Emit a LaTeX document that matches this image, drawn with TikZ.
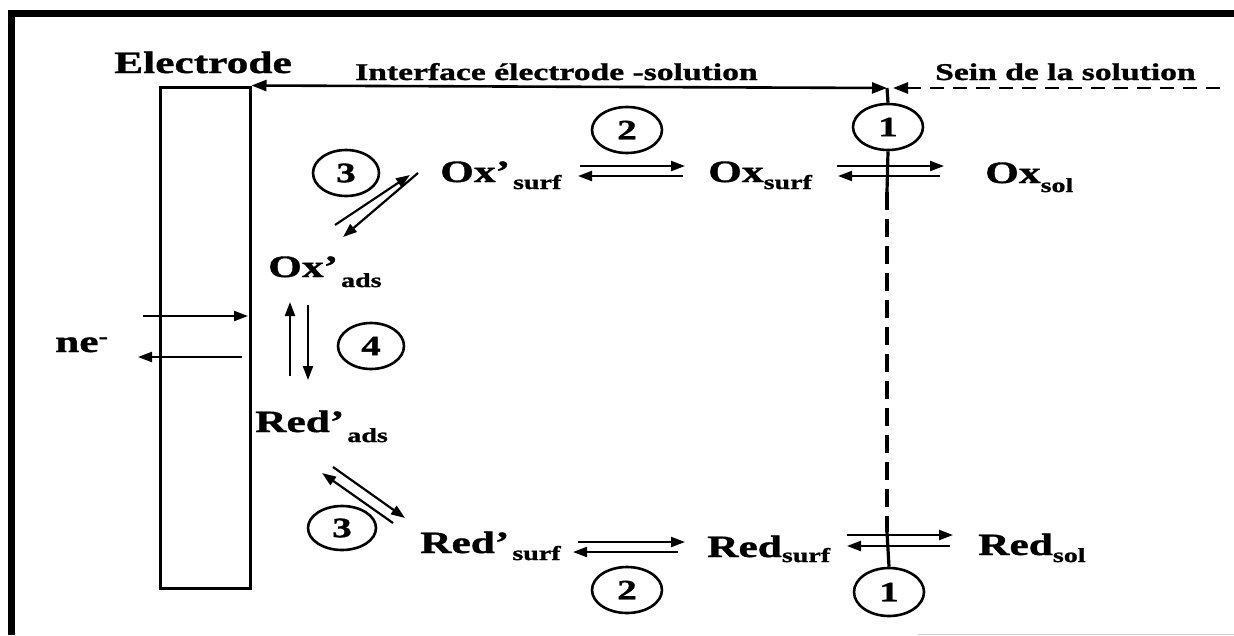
\documentclass[tikz,border=0pt]{standalone}
\usepackage{fontspec}
\setmainfont{Liberation Serif}[FakeStretch=1.4, BoldFeatures={FakeBold=1.2}]
\usetikzlibrary{arrows.meta,shapes.geometric}
\newcommand\mysub[2][7]{\raisebox{-#1pt}{\fontsize{20}{20}\selectfont #2}}
\begin{document}
\begin{tikzpicture}[x=1pt,y=-1pt,
  species/.style={font=\bfseries\fontsize{31}{31}\selectfont, inner sep=0pt, anchor=base west},
  heading/.style={font=\bfseries\fontsize{24}{24}\selectfont, inner sep=0pt, anchor=base west},
  stepnum/.style={ellipse, draw, line width=2.6pt, minimum width=70pt, minimum height=46pt, inner sep=0pt, font=\bfseries\fontsize{28}{28}\selectfont},
  arr/.style={line width=2.2pt, -{Triangle[length=14pt,width=10pt]}},
  bidir/.style={line width=2.6pt, {Triangle[length=15pt,width=11pt]}-{Triangle[length=15pt,width=11pt]}},
  solid line/.style={line width=3.2pt},
  vdash/.style={line width=4pt, dash pattern=on 18pt off 9pt},
  hdash/.style={line width=2.6pt, dash pattern=on 14pt off 9pt, {Triangle[length=15pt,width=11pt]}-},
]
\useasboundingbox (0,0) rectangle (1234,635);
% frame
\fill[black] (8,10) rectangle (1234,17);
\fill[black] (8,10) rectangle (15,635);
\draw[gray!35, line width=1pt] (918,634.5) -- (1234,634.5);

% electrode
\node[draw, line width=3pt, minimum width=90pt, minimum height=501pt, inner sep=0pt] (elec) at (205,337.5) {};
\node[font=\bfseries\fontsize{31}{31}\selectfont, inner sep=0pt, anchor=base] (electxt) at (203,73) {Electrode};

% headings
\node[heading] (iface) at (355,80) {Interface électrode -solution};
\node[heading] (sein) at (935,80) {Sein de la solution};

% step circles
\node[stepnum] (c1t) at (888,127) {1};
\node[stepnum] (c2t) at (627,130) {2};
\node[stepnum, minimum width=66pt] (c3t) at (346,173) {3};
\node[stepnum, minimum width=66pt] (c4) at (371,346) {4};
\node[stepnum, minimum width=68pt, minimum height=44pt] (c3b) at (342,528) {3};
\node[stepnum] (c2b) at (627,590) {2};
\node[stepnum, minimum height=48pt] (c1b) at (889,592) {1};

% species
\node[species] (oxps) at (440,182) {Ox’\hspace{3pt}\mysub{surf}};
\node[species] (oxs) at (708,182) {Ox\mysub{surf}};
\node[species] (oxsol) at (985,183) {Ox\mysub[9]{sol}};
\node[species] (oxpa) at (268,277) {Ox’\hspace{3pt}\mysub[10]{ads}};
\node[species] (redpa) at (255,432) {Red’\hspace{3pt}\mysub[10]{ads}};
\node[species] (redps) at (420,553) {Red’\hspace{3pt}\mysub{surf}};
\node[species] (reds) at (707,557) {Red\mysub[5]{surf}};
\node[species] (redsol) at (978,555) {Red\mysub[7]{sol}};
\node[species] (ne) at (55,352) {ne\raisebox{9pt}{\fontsize{20}{20}\selectfont -}};

% top interface arrow and solution dashed arrow
\coordinate (vtop) at (887,88);
\coordinate (dashend) at (1227,88);
\coordinate (dashtip) at (893,88);
\draw[bidir] (vtop) -- (elec.north east);
\draw[hdash] (dashtip) -- (dashend);

% vertical interface line
\coordinate (vds) at (887,192);
\coordinate (vde) at (887,532);
\draw[solid line] (vtop) -- (c1t.north);
\draw[solid line] (c1t.south) -- (vds);
\draw[vdash] (vds) -- (vde);
\draw[solid line] (vde) -- (c1b.north);

% step 2 / step 1 arrows (Ox)
\coordinate (a1s) at (580,166); \coordinate (a1e) at (685,166);
\coordinate (a2s) at (683,176); \coordinate (a2e) at (578,176);
\draw[arr] (a1s) -- (a1e);
\draw[arr] (a2s) -- (a2e);
\coordinate (b1s) at (837,166); \coordinate (b1e) at (944,166);
\coordinate (b2s) at (940,176); \coordinate (b2e) at (838,176);
\draw[arr] (b1s) -- (b1e);
\draw[arr] (b2s) -- (b2e);

% step 2 / step 1 arrows (Red)
\coordinate (r1s) at (578,542); \coordinate (r1e) at (685,542);
\coordinate (r2s) at (678,552); \coordinate (r2e) at (573,552);
\draw[arr] (r1s) -- (r1e);
\draw[arr] (r2s) -- (r2e);
\coordinate (q1s) at (847,535); \coordinate (q1e) at (953,535);
\coordinate (q2s) at (950,546); \coordinate (q2e) at (847,546);
\draw[arr] (q1s) -- (q1e);
\draw[arr] (q2s) -- (q2e);

% step 3 arrows (top)
\coordinate (d1s) at (335,225); \coordinate (d1e) at (410,175);
\coordinate (d2s) at (418,173); \coordinate (d2e) at (343,237);
\draw[arr] (d1s) -- (d1e);
\draw[arr] (d2s) -- (d2e);

% step 3 arrows (bottom)
\coordinate (e1s) at (393,523); \coordinate (e1e) at (322,473);
\coordinate (e2s) at (333,467); \coordinate (e2e) at (405,518);
\draw[arr] (e1s) -- (e1e);
\draw[arr] (e2s) -- (e2e);

% step 4 arrows
\coordinate (f1s) at (290,376); \coordinate (f1e) at (290,302);
\coordinate (f2s) at (308,305); \coordinate (f2e) at (308,380);
\draw[arr] (f1s) -- (f1e);
\draw[arr] (f2s) -- (f2e);

% electron arrows
\coordinate (g1s) at (143,316); \coordinate (g1e) at (248,316);
\coordinate (g2s) at (242,357); \coordinate (g2e) at (138,357);
\draw[arr] (g1s) -- (g1e);
\draw[arr] (g2s) -- (g2e);
\end{tikzpicture}
\end{document}
